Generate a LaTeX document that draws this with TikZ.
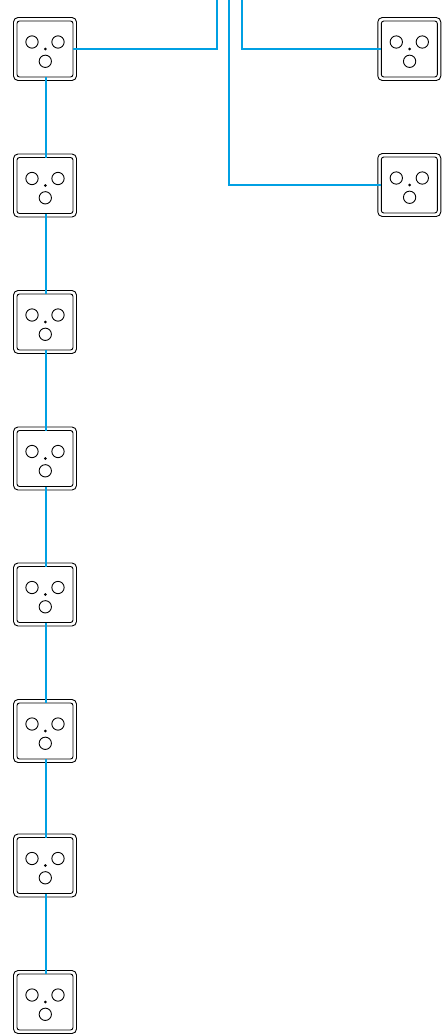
\documentclass[tikz,border=0pt]{standalone}
\definecolor{wirecol}{RGB}{0,160,227}
\tikzset{
  outerbox/.style={draw=black,line width=0.9pt,rounded corners=4.5pt,minimum width=63pt,minimum height=63pt,inner sep=0pt,outer sep=0pt,fill=white},
  innerbox/.style={draw=black,line width=0.9pt,rounded corners=2.5pt,minimum width=56pt,minimum height=56pt,inner sep=0pt,outer sep=0pt,fill=white},
  port/.style={circle,draw=black,line width=0.9pt,minimum size=12.3pt,inner sep=0pt,fill=white},
  pin/.style={circle,fill=black,minimum size=3pt,inner sep=0pt},
  wire/.style={draw=wirecol,line width=2.3pt},
}
\newcommand{\device}[3]{%
  \node[outerbox] (#1o) at (#2,#3) {};
  \node[innerbox] (#1) at (#2,#3) {};
  \node[port] (#1l) at (#2-13,#3-7) {};
  \node[port] (#1r) at (#2+13,#3-7) {};
  \node[port] (#1b) at (#2+0.3,#3+12.3) {};
  \node[pin] (#1p) at (#2+0.3,#3) {};
}
\begin{document}
\begin{tikzpicture}[x=1pt,y=-1pt]
\useasboundingbox (0,0) rectangle (446,1034);
\device{a1}{45}{49}
\device{a2}{45}{185.5}
\device{a3}{45}{322}
\device{a4}{45}{458.5}
\device{a5}{45}{594.5}
\device{a6}{45}{731}
\device{a7}{45}{865.5}
\device{a8}{45}{1002}
\device{c1}{409.3}{49}
\device{c2}{409.3}{185}
\coordinate (t1) at (217,0);
\coordinate (t2) at (229,0);
\coordinate (t3) at (241.7,0);
\draw[wire] ([xshift=0.7pt]a1.south) -- ([xshift=0.7pt]a2.north);
\draw[wire] ([xshift=0.7pt]a2.south) -- ([xshift=0.7pt]a3.north);
\draw[wire] ([xshift=0.7pt]a3.south) -- ([xshift=0.7pt]a4.north);
\draw[wire] ([xshift=0.7pt]a4.south) -- ([xshift=0.7pt]a5.north);
\draw[wire] ([xshift=0.7pt]a5.south) -- ([xshift=0.7pt]a6.north);
\draw[wire] ([xshift=0.7pt]a6.south) -- ([xshift=0.7pt]a7.north);
\draw[wire] ([xshift=0.7pt]a7.south) -- ([xshift=0.7pt]a8.north);
\draw[wire] (t1) |- ([yshift=-0.3pt]a1.east);
\draw[wire] (t2) |- (c2.west);
\draw[wire] (t3) |- ([yshift=-0.3pt]c1.west);
\end{tikzpicture}
\end{document}
